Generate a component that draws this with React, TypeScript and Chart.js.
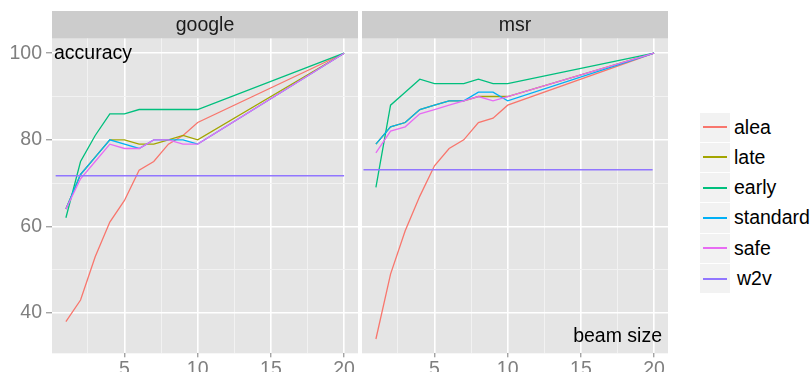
import React, { useEffect, useRef } from "react";
import { Chart, registerables } from "chart.js";

Chart.register(...registerables);

const beamSizes = [1, 2, 3, 4, 5, 6, 7, 8, 9, 10, 20];
const seriesNames = ["alea", "late", "early", "standard", "safe", "w2v"];
const seriesColors = ["#F8766D", "#A3A500", "#00BF7D", "#00B0F6", "#E76BF3", "#9176FF"];

const googleAlea = [38, 43, 53, 61, 66, 73, 75, 79, 81, 84, 100];
const googleLate = [64, 72, 76, 80, 80, 79, 79, 80, 81, 80, 100];
const googleEarly = [62, 75, 81, 86, 86, 87, 87, 87, 87, 87, 100];
const googleStandard = [64, 72, 76, 80, 79, 78, 80, 80, 80, 79, 100];
const googleSafe = [64, 71, 75, 79, 78, 78, 80, 80, 79, 79, 100];
const googleW2vX = [0.3, 20];
const googleW2v = [71.7, 71.7];

const msrAlea = [34, 49, 59, 67, 74, 78, 80, 84, 85, 88, 100];
const msrLate = [79, 83, 84, 87, 88, 89, 89, 90, 90, 90, 100];
const msrEarly = [69, 88, 91, 94, 93, 93, 93, 94, 93, 93, 100];
const msrStandard = [79, 83, 84, 87, 88, 89, 89, 91, 91, 89, 100];
const msrSafe = [77, 82, 83, 86, 87, 88, 89, 90, 89, 90, 100];
const msrW2vX = [0.15, 19.9];
const msrW2v = [73.1, 73.1];

const xTicks = [2.5, 5, 7.5, 10, 12.5, 15, 17.5, 20];
const yTicks = [40, 50, 60, 70, 80, 90, 100];
const X_MIN = 0.05;
const X_MAX = 20.95;
const Y_MIN = 30.7;
const Y_MAX = 103.4;

const FONT = "'Liberation Sans', Arial, Helvetica, sans-serif";
const FS = 19.5;

function pts(xs: number[], ys: number[]) {
  return xs.map((x, i) => ({ x, y: ys[i] }));
}

type PanelProps = {
  name: string;
  series: number[][];
  w2vX: number[];
  w2v: number[];
  width: number;
  left: number;
  padLeft: number;
  padRight: number;
  yAxisWidth: number;
  showYLabels: boolean;
  corner: "accuracy" | "beam";
};

function Panel(p: PanelProps) {
  const ref = useRef<HTMLCanvasElement | null>(null);
  useEffect(() => {
    if (!ref.current) return;
    const datasets: any[] = p.series.map((ys, i) => ({
      label: seriesNames[i],
      data: pts(beamSizes, ys),
      borderColor: seriesColors[i],
      backgroundColor: seriesColors[i],
      borderWidth: 1.3,
      pointRadius: 0,
      tension: 0,
      fill: false,
      order: 10 - i,
    }));
    datasets.push({
      label: "w2v",
      data: pts(p.w2vX, p.w2v),
      borderColor: seriesColors[5],
      backgroundColor: seriesColors[5],
      borderWidth: 1.6,
      pointRadius: 0,
      fill: false,
      order: 0,
    });
    const panelPlugin = {
      id: "panel",
      beforeDraw(chart: any) {
        const { ctx, chartArea } = chart;
        ctx.save();
        ctx.fillStyle = "#E5E5E5";
        ctx.fillRect(chartArea.left, chartArea.top, chartArea.right - chartArea.left, chartArea.bottom - chartArea.top);
        ctx.fillStyle = "#CCCCCC";
        ctx.fillRect(chartArea.left, 11, chartArea.right - chartArea.left, chartArea.top - 11);
        ctx.fillStyle = "#1a1a1a";
        ctx.font = `${FS}px ${FONT}`;
        ctx.textAlign = "center";
        ctx.textBaseline = "alphabetic";
        ctx.fillText(p.name, (chartArea.left + chartArea.right) / 2, 30.5);
        ctx.restore();
      },
      afterDatasetsDraw(chart: any) {
        const { ctx, chartArea, scales } = chart;
        ctx.save();
        ctx.fillStyle = "#000000";
        ctx.font = `${FS}px ${FONT}`;
        if (p.corner === "accuracy") {
          ctx.textAlign = "left";
          ctx.textBaseline = "alphabetic";
          ctx.fillText("accuracy", chartArea.left + 2, scales.y.getPixelForValue(100) + 6);
        } else {
          ctx.textAlign = "right";
          ctx.textBaseline = "alphabetic";
          ctx.fillText("beam size", chartArea.right - 6, chartArea.bottom - 11.5);
        }
        ctx.restore();
      },
    };
    const chart = new Chart(ref.current, {
      type: "line",
      data: { datasets },
      plugins: [panelPlugin],
      options: {
        responsive: false,
        animation: false,
        events: [],
        layout: { padding: { left: p.padLeft, right: p.padRight, top: 38.5, bottom: 0 } },
        plugins: { legend: { display: false }, tooltip: { enabled: false } },
        scales: {
          x: {
            type: "linear",
            min: X_MIN,
            max: X_MAX,
            afterBuildTicks: (s: any) => {
              s.ticks = xTicks.map((v) => ({ value: v }));
            },
            afterFit: (s: any) => {
              s.height = 372 - 353.3;
            },
            border: { display: false },
            grid: {
              color: (c: any) => (c.tick && c.tick.value % 5 === 0 ? "#FFFFFF" : "#F2F2F2"),
              lineWidth: (c: any) => (c.tick && c.tick.value % 5 === 0 ? 1.6 : 1),
              tickColor: (c: any) => (c.tick && c.tick.value % 5 === 0 ? "#7F7F7F" : "rgba(0,0,0,0)"),
              tickLength: 4,
              tickWidth: 1,
            },
            ticks: {
              autoSkip: false,
              maxRotation: 0,
              padding: 1,
              color: "#7F7F7F",
              font: { family: FONT, size: FS },
              callback: (v: any) => (Number(v) % 5 === 0 ? String(v) : ""),
            },
          },
          y: {
            type: "linear",
            min: Y_MIN,
            max: Y_MAX,
            afterBuildTicks: (s: any) => {
              s.ticks = yTicks.map((v) => ({ value: v }));
            },
            afterFit: (s: any) => {
              s.width = p.yAxisWidth;
            },
            border: { display: false },
            grid: {
              color: (c: any) => (c.tick && c.tick.value % 20 === 0 ? "#FFFFFF" : "#F2F2F2"),
              lineWidth: (c: any) => (c.tick && c.tick.value % 20 === 0 ? 1.6 : 1),
              tickColor: (c: any) =>
                p.showYLabels && c.tick && c.tick.value % 20 === 0 ? "#7F7F7F" : "rgba(0,0,0,0)",
              tickLength: p.showYLabels ? 6 : 0,
              drawTicks: p.showYLabels,
              tickWidth: 1,
            },
            ticks: {
              display: p.showYLabels,
              autoSkip: false,
              padding: 4,
              color: "#7F7F7F",
              font: { family: FONT, size: FS },
              callback: (v: any) => (Number(v) % 20 === 0 ? String(v) : ""),
            },
          },
        },
      } as any,
    });
    return () => chart.destroy();
  }, []);
  return (
    <canvas
      ref={ref}
      width={p.width}
      height={372}
      style={{ position: "absolute", left: p.left, top: 0, width: p.width, height: 372 }}
    />
  );
}

function Legend() {
  const top = 112.5;
  const h = 30.3;
  return (
    <div style={{ position: "absolute", left: 700, top: 0 }}>
      {seriesNames.map((n, i) => (
        <div key={n}>
          <div
            style={{
              position: "absolute",
              left: 0,
              top: top + i * h,
              width: 30,
              height: h - 1,
              background: "#F2F2F2",
            }}
          >
            <div
              style={{
                position: "absolute",
                left: 3,
                top: (h - 1) / 2 - 1,
                width: 24,
                height: 2,
                background: seriesColors[i],
              }}
            />
          </div>
          <div
            style={{
              position: "absolute",
              left: n === "w2v" ? 37 : 34,
              top: top + i * h,
              height: h - 1,
              lineHeight: `${h - 1}px`,
              fontFamily: FONT,
              fontSize: FS,
              color: "#000",
              whiteSpace: "nowrap",
            }}
          >
            {n}
          </div>
        </div>
      ))}
    </div>
  );
}

export default function App() {
  return (
    <div
      style={{
        position: "fixed",
        left: 0,
        top: 0,
        width: 812,
        height: 372,
        background: "#fff",
        overflow: "hidden",
      }}
    >
      <Panel
        name="google"
        series={[googleAlea, googleLate, googleEarly, googleStandard, googleSafe]}
        w2vX={googleW2vX}
        w2v={googleW2v}
        width={360}
        left={0}
        padLeft={0}
        padRight={2}
        yAxisWidth={52}
        showYLabels={true}
        corner="accuracy"
      />
      <Panel
        name="msr"
        series={[msrAlea, msrLate, msrEarly, msrStandard, msrSafe]}
        w2vX={msrW2vX}
        w2v={msrW2v}
        width={320}
        left={360}
        padLeft={2}
        padRight={12}
        yAxisWidth={0}
        showYLabels={false}
        corner="beam"
      />
      <Legend />
    </div>
  );
}
